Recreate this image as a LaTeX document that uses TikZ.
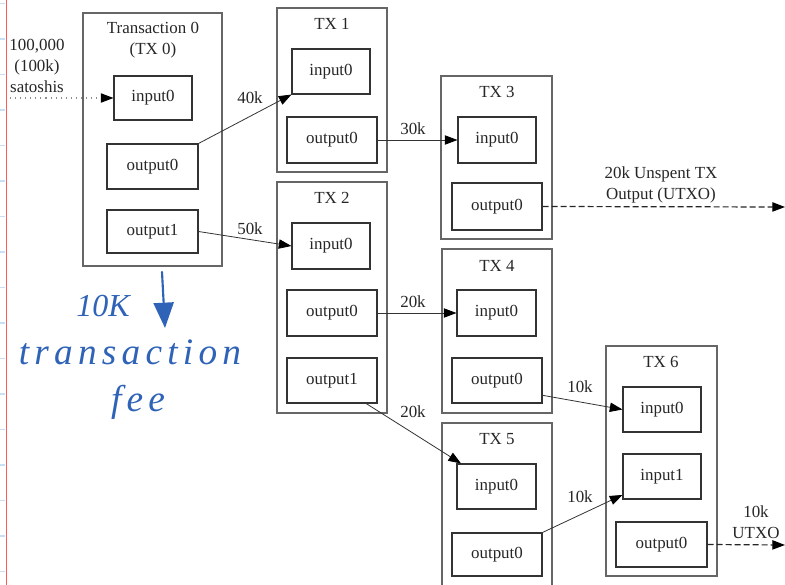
\documentclass[tikz,border=0pt]{standalone}
\usepackage{fontspec}
\setmainfont{Liberation Serif}
\usetikzlibrary{arrows.meta,calc}

% boxes are given by their corner coordinates (x1,y1,x2,y2) in pixel units
\newcommand\txbox[5]{%
  \node[outerbox, minimum width={(#4-#2)*0.75pt}, minimum height={(#5-#3)*0.75pt}]
    (#1) at ({(#2+#4)/2},{(#3+#5)/2}) {};}
\newcommand\iobox[6]{%
  \node[iobox, minimum width={(#4-#2)*0.75pt}, minimum height={(#5-#3)*0.75pt}]
    (#1) at ({(#2+#4)/2},{(#3+#5)/2}) {#6};}

\definecolor{pen}{HTML}{2F63B8}
\definecolor{margin}{HTML}{FF5A5A}
\definecolor{rule}{HTML}{C8E0F5}

\tikzset{
  diag/.style={font=\fontsize{12.7}{15.75}\selectfont, text=black!85},
  outerbox/.style={draw=black!60, line width=0.9pt, inner sep=0pt},
  iobox/.style={draw=black!80, line width=0.8pt, inner sep=0pt, diag},
  title/.style={diag, align=center, inner sep=0pt},
  lbl/.style={diag, align=center, inner sep=0pt},
  flow/.style={draw=black!80, line width=0.6pt,
    -{Triangle[length=9.5pt, width=7pt, color=black]}},
  utxo/.style={flow, draw=black!85, line width=0.9pt, dash pattern=on 4.5pt off 2.25pt},
  inflow/.style={draw=black!45, line width=0.8pt, dash pattern=on 0.8pt off 3pt,
    -{Triangle[length=9.5pt, width=7pt, color=black]}},
  note/.style={text=pen, inner sep=0pt,
    font=\fontsize{28}{32}\selectfont\itshape\addfontfeature{LetterSpace=14}},
}

\begin{document}
\begin{tikzpicture}[x=0.75pt, y=-0.75pt]
\useasboundingbox (0,0) rectangle (785,585);
\clip (0,0) rectangle (785,585);
\fill[white] (0,0) rectangle (785,585);

% notebook margin and ruling ticks
\foreach \k in {0,...,16}
  \draw[rule, line width=0.9pt] (0,{3.5+35.5*\k}) -- (5,{3.5+35.5*\k});
\draw[margin, line width=1.2pt] (6.5,0) -- (6.5,585);

% transactions
\txbox{tx0}{83}{13}{222}{266}
\node[title] at (153,40) {Transaction 0\\(TX 0)};
\iobox{t0i0}{114}{76}{192}{120}{input0}
\iobox{t0o0}{107}{144}{198}{189}{output0}
\iobox{t0o1}{107}{210}{198}{253}{output1}

\txbox{tx1}{277}{8}{387}{172}
\node[title] at (332,24) {TX 1};
\iobox{t1i0}{292}{49}{370}{94}{input0}
\iobox{t1o0}{287}{117}{377}{163}{output0}

\txbox{tx2}{277}{182}{387}{413}
\node[title] at (332,198) {TX 2};
\iobox{t2i0}{292}{223}{370}{269}{input0}
\iobox{t2o0}{287}{290}{377}{336}{output0}
\iobox{t2o1}{287}{358}{377}{403}{output1}

\txbox{tx3}{441}{76}{552}{239}
\node[title] at (497,92) {TX 3};
\iobox{t3i0}{458}{117}{536}{163}{input0}
\iobox{t3o0}{452}{183}{542}{230}{output0}

\txbox{tx4}{442}{249}{552}{413}
\node[title] at (497,266) {TX 4};
\iobox{t4i0}{457}{290}{536}{336}{input0}
\iobox{t4o0}{452}{358}{542}{403}{output0}

\txbox{tx5}{442}{423}{552}{600}
\node[title] at (497,439) {TX 5};
\iobox{t5i0}{457}{464}{536}{509}{input0}
\iobox{t5o0}{452}{533}{542}{576}{output0}

\txbox{tx6}{606}{346}{717}{576}
\node[title] at (661,362) {TX 6};
\iobox{t6i0}{623}{387}{701}{432}{input0}
\iobox{t6i1}{623}{454}{701}{499}{input1}
\iobox{t6o0}{616}{522}{707}{567}{output0}

% funding and unspent ends
\coordinate (src) at (10,98);
\coordinate (utxoA) at (785,207);
\coordinate (utxoB) at (785,545);
\node[lbl] at (37,66) {100,000\\(100k)\\satoshis};

% value flows
\draw[inflow] (src) -- (t0i0.west);
\draw[flow] (t0o0.north east) -- (t1i0.south west);
\node[lbl] at (250,98) {40k};
\draw[flow] (t0o1.east) -- (t2i0.west);
\node[lbl] at (250,229) {50k};
\draw[flow] (t1o0.east) -- (t3i0.west);
\node[lbl] at (413,129) {30k};
\draw[flow] (t2o0.east) -- (t4i0.west);
\node[lbl] at (413,302) {20k};
\draw[flow] (t2o1.-34) -- (t5i0.147);
\node[lbl] at (413,412) {20k};
\draw[flow] (t4o0.-18) -- (t6i0.west);
\node[lbl] at (580,387) {10k};
\draw[flow] (t5o0.north east) -- (t6i1.205);
\node[lbl] at (580,497) {10k};
\draw[utxo] (t3o0.east) -- (utxoA);
\node[lbl] at (661,185) {20k Unspent TX\\Output (UTXO)};
\draw[utxo] (t6o0.east) -- (utxoB);
\node[lbl] at (756,522) {10k\\UTXO};

% handwritten note about the fee
\coordinate (penA) at (162,272);
\coordinate (penB) at (165,328);
\draw[pen, line width=1.6pt, line cap=round,
  -{Triangle[length=19pt, width=15pt]}] (penA) -- (penB);
\node[note, font=\fontsize{24}{28}\selectfont\itshape] at (103,306) {10K};
\node[note] at (130,352) {transaction};
\node[note] at (138,402) {fee};
\end{tikzpicture}
\end{document}
